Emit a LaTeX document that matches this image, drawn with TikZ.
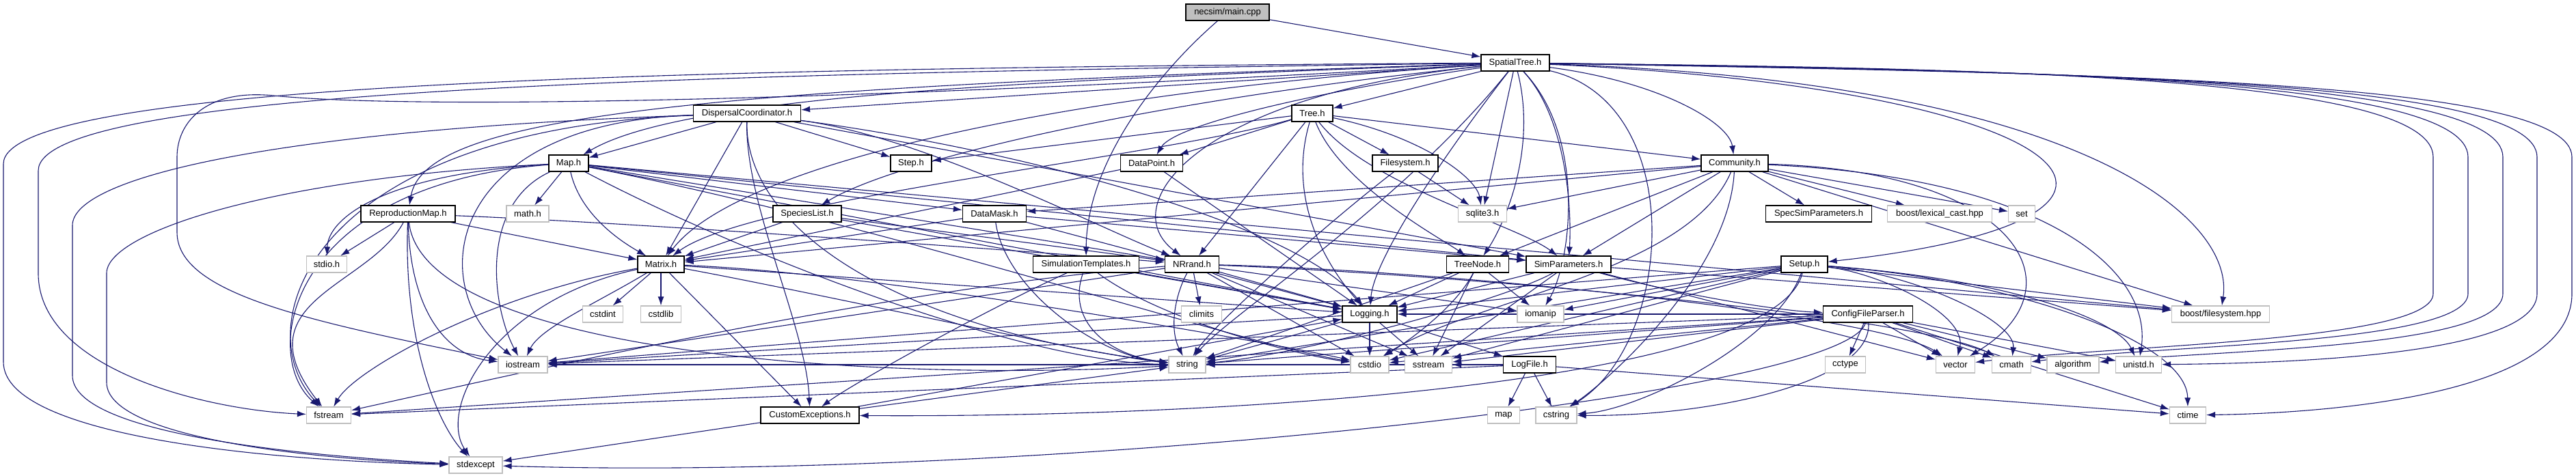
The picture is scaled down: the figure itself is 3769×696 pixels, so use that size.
\documentclass[tikz,border=0pt]{standalone}
\usepackage{fontspec}
\setmainfont{Liberation Sans}
\usetikzlibrary{arrows.meta}
\definecolor{edgeblue}{HTML}{191970}
\definecolor{grayb}{HTML}{BFBFBF}
\pgfdeclarelayer{bg}
\pgfsetlayers{bg,main}
\tikzset{
  nb/.style={draw=black, line width=1.2pt, fill=white, minimum height=24pt, inner xsep=0pt, inner ysep=0pt, font=\fontsize{13}{15}\selectfont},
  ng/.style={nb, draw=grayb},
  e/.style={draw=edgeblue, line width=1.1pt, -{Latex[length=13pt,width=9pt]}}
}
\begin{document}
\begin{tikzpicture}[x=1pt,y=-1pt]
\useasboundingbox (0,0) rectangle (3769,696);
% project headers
\node[nb,fill=grayb,minimum width=122pt] (main) at (1796,18) {necsim/main.cpp};
\node[nb,minimum width=100pt] (ST) at (2217,92) {SpatialTree.h};
\node[nb,minimum width=157pt] (DC) at (1093,166) {DispersalCoordinator.h};
\node[nb,minimum width=60pt] (Tree) at (1920,166) {Tree.h};
\node[nb,minimum width=58pt] (Map) at (832,239) {Map.h};
\node[nb,minimum width=60pt] (Step) at (1333,239) {Step.h};
\node[nb,minimum width=91pt] (DP) at (1685,239) {DataPoint.h};
\node[nb,minimum width=96pt] (FS) at (2056,239) {Filesystem.h};
\node[nb,minimum width=98pt] (Comm) at (2538,239) {Community.h};
\node[nb,minimum width=138pt] (RM) at (597,313) {ReproductionMap.h};
\node[nb,minimum width=100pt] (SL) at (1181,313) {SpeciesList.h};
\node[nb,minimum width=93pt] (DM) at (1455,313) {DataMask.h};
\node[nb,minimum width=155pt] (SSP) at (2661,313) {SpecSimParameters.h};
\node[nb,minimum width=68pt] (Matrix) at (967,387) {Matrix.h};
\node[nb,minimum width=155pt] (SimT) at (1589,387) {SimulationTemplates.h};
\node[nb,minimum width=79pt] (NR) at (1744,387) {NRrand.h};
\node[nb,minimum width=91pt] (TN) at (2162,387) {TreeNode.h};
\node[nb,minimum width=124pt] (SP) at (2295,387) {SimParameters.h};
\node[nb,minimum width=68pt] (Setup) at (2640,387) {Setup.h};
\node[nb,minimum width=80pt] (Log) at (2004,460) {Logging.h};
\node[nb,minimum width=131pt] (CFP) at (2733,460) {ConfigFileParser.h};
\node[nb,minimum width=77pt] (LogFile) at (2238,534) {LogFile.h};
\node[nb,minimum width=144pt] (CE) at (1185,608) {CustomExceptions.h};
% system headers
\node[ng,minimum width=62pt] (mathh) at (772,313) {math.h};
\node[ng,minimum width=71pt] (sqlite) at (2169,313) {sqlite3.h};
\node[ng,minimum width=153pt] (lexcast) at (2838,313) {boost/lexical\_cast.hpp};
\node[ng,minimum width=39pt] (set) at (2958,313) {set};
\node[ng,minimum width=59pt] (stdio) at (478,387) {stdio.h};
\node[ng,minimum width=59pt] (cstdint) at (882,460) {cstdint};
\node[ng,minimum width=59pt] (cstdlib) at (967,460) {cstdlib};
\node[ng,minimum width=59pt] (climits) at (1758,460) {climits};
\node[ng,minimum width=68pt] (iomanip) at (2254,460) {iomanip};
\node[ng,minimum width=143pt] (bfs) at (3249,460) {boost/filesystem.hpp};
\node[ng,minimum width=72pt] (iostream) at (765,534) {iostream};
\node[ng,minimum width=54pt] (string) at (1737,534) {string};
\node[ng,minimum width=56pt] (cstdio) at (2004,534) {cstdio};
\node[ng,minimum width=69pt] (sstream) at (2090,534) {sstream};
\node[ng,minimum width=59pt] (cctype) at (2700,534) {cctype};
\node[ng,minimum width=57pt] (vector) at (2861,534) {vector};
\node[ng,minimum width=57pt] (cmath) at (2943,534) {cmath};
\node[ng,minimum width=76pt] (algorithm) at (3033,534) {algorithm};
\node[ng,minimum width=67pt] (unistd) at (3129,534) {unistd.h};
\node[ng,minimum width=65pt] (fstream) at (481,608) {fstream};
\node[ng,minimum width=47pt] (map) at (2200,608) {map};
\node[ng,minimum width=60pt] (cstring) at (2277,608) {cstring};
\node[ng,minimum width=53pt] (ctime) at (3201,608) {ctime};
\node[ng,minimum width=78pt] (stdexcept) at (696,681) {stdexcept};

\begin{pgfonlayer}{bg}
\fill[white] (0,0) rectangle (3769,696);
% main
\draw[e] (main) -- (ST);
\draw[e] (main) .. controls (1690,110) and (1590,240) .. (SimT);
% SpatialTree
\draw[e] (ST) -- (Tree);
\draw[e] (ST) -- (DC);
\draw[e] (ST) .. controls (1500,118) and (1000,140) .. (Map);
\draw[e] (ST) .. controls (1000,130) and (620,170) .. (RM);
\draw[e] (ST) .. controls (1650,150) and (1300,240) .. (SL);
\draw[e] (ST) .. controls (1550,135) and (1080,240) .. (Matrix);
\draw[e] (ST) .. controls (1950,130) and (1720,180) .. (DP);
\draw[e] (ST) .. controls (1750,140) and (1630,300) .. (NR);
\draw[e] (ST) -- (sqlite);
\draw[e] (ST) .. controls (2250,220) and (2200,330) .. (TN);
\draw[e] (ST) .. controls (2290,170) and (2300,300) .. (SP);
\draw[e] (ST) .. controls (2430,120) and (2530,180) .. (Comm);
\draw[e] (ST) .. controls (3050,130) and (3250,320) .. (Setup);
\draw[e] (ST) .. controls (2110,230) and (2010,380) .. (Log);
\draw[e] (ST) .. controls (3050,120) and (3270,320) .. (bfs);
\draw[e] (ST) .. controls (2470,150) and (2450,500) .. (cstring);
\draw[e] (ST) .. controls (2050,300) and (1800,460) .. (string);
\draw[e] (ST) .. controls (2320,200) and (2300,380) .. (iomanip);
\draw[e] (ST) .. controls (2900,100) and (3560,110) .. (3560,230) -- (3560,430) .. controls (3560,500) and (3100,505) .. (vector);
\draw[e] (ST) .. controls (2950,102) and (3611,112) .. (3611,230) -- (3611,430) .. controls (3611,505) and (3150,505) .. (cmath);
\draw[e] (ST) .. controls (3000,104) and (3662,114) .. (3662,230) -- (3662,430) .. controls (3662,510) and (3250,512) .. (algorithm);
\draw[e] (ST) .. controls (3050,106) and (3712,116) .. (3712,230) -- (3712,430) .. controls (3712,520) and (3350,532) .. (unistd);
\draw[e] (ST) .. controls (3100,108) and (3763,118) .. (3763,230) -- (3763,430) .. controls (3763,580) and (3400,605) .. (ctime);
\draw[e] (ST) .. controls (1000,100) and (5,120) .. (5,240) -- (5,530) .. controls (5,640) and (400,675) .. (stdexcept);
\draw[e] (ST) .. controls (1000,108) and (56,130) .. (56,250) -- (56,400) .. controls (56,540) and (300,600) .. (fstream);
\draw[e] (ST) .. controls (1200,150) and (600,160) .. (400,140) .. controls (300,130) and (259,180) .. (259,230) -- (259,340) .. controls (259,430) and (450,470) .. (iostream);
% DispersalCoordinator
\draw[e] (DC) -- (Map);
\draw[e] (DC) -- (Matrix);
\draw[e] (DC) -- (Step);
\draw[e] (DC) .. controls (1350,200) and (1600,330) .. (NR);
\draw[e] (DC) -- (SP);
\draw[e] (DC) .. controls (1090,330) and (1300,480) .. (string);
\draw[e] (DC) .. controls (1090,300) and (1180,480) .. (CE);
\draw[e] (DC) .. controls (650,180) and (620,420) .. (iostream);
\draw[e] (DC) .. controls (450,190) and (360,480) .. (fstream);
\draw[e] (DC) .. controls (400,190) and (106,260) .. (106,330) -- (106,550) .. controls (106,630) and (400,665) .. (stdexcept);
\draw[e] (DC) .. controls (1500,220) and (1900,330) .. (Log);
% Map
\draw[e] (Map) -- (mathh);
\draw[e] (Map) .. controls (850,320) and (920,360) .. (Matrix);
\draw[e] (Map) .. controls (560,255) and (480,320) .. (stdio);
\draw[e] (Map) -- (DM);
\draw[e] (Map) -- (NR);
\draw[e] (Map) -- (SP);
\draw[e] (Map) .. controls (1100,380) and (1500,530) .. (string);
\draw[e] (Map) .. controls (700,300) and (720,450) .. (iostream);
\draw[e] (Map) .. controls (420,270) and (380,520) .. (fstream);
\draw[e] (Map) .. controls (400,260) and (156,340) .. (156,400) -- (156,560) .. controls (156,640) and (450,672) .. (stdexcept);
\draw[e] (Map) -- (Log);
\draw[e] (Map) -- (bfs);
\draw[e] (Map) .. controls (1300,330) and (1800,500) .. (cstdio);
% ReproductionMap
\draw[e] (RM) -- (Matrix);
\draw[e] (RM) -- (stdio);
\draw[e] (RM) .. controls (900,325) and (1400,360) .. (NR);
\draw[e] (RM) .. controls (540,420) and (350,440) .. (fstream);
\draw[e] (RM) .. controls (600,450) and (650,520) .. (iostream);
\draw[e] (RM) .. controls (620,520) and (1300,560) .. (string);
\draw[e] (RM) .. controls (590,500) and (640,620) .. (stdexcept);
% Matrix
\draw[e] (Matrix) -- (cstdint);
\draw[e] (Matrix) -- (cstdlib);
\draw[e] (Matrix) .. controls (880,440) and (790,480) .. (iostream);
\draw[e] (Matrix) .. controls (720,430) and (520,540) .. (fstream);
\draw[e] (Matrix) .. controls (720,440) and (640,600) .. (stdexcept);
\draw[e] (Matrix) .. controls (1200,430) and (1600,520) .. (string);
\draw[e] (Matrix) .. controls (1300,400) and (1900,510) .. (cstdio);
\draw[e] (Matrix) -- (CE);
\draw[e] (Matrix) -- (Log);
% SpeciesList, DataMask, DataPoint
\draw[e] (SL) -- (Matrix);
\draw[e] (SL) -- (NR);
\draw[e] (SL) -- (Log);
\draw[e] (DM) -- (Matrix);
\draw[e] (DM) .. controls (1470,420) and (1600,520) .. (string);
\draw[e] (DM) -- (SP);
\draw[e] (DM) -- (Log);
\draw[e] (DP) -- (Log);
\draw[e] (DP) -- (Matrix);
% Tree
\draw[e] (Tree) -- (Step);
\draw[e] (Tree) -- (DP);
\draw[e] (Tree) -- (FS);
\draw[e] (Tree) .. controls (2080,200) and (2160,260) .. (sqlite);
\draw[e] (Tree) -- (NR);
\draw[e] (Tree) .. controls (1960,270) and (2110,350) .. (TN);
\draw[e] (Tree) .. controls (2000,270) and (2220,330) .. (SP);
\draw[e] (Tree) -- (Comm);
\draw[e] (Tree) .. controls (1700,230) and (1100,290) .. (Matrix);
\draw[e] (Tree) .. controls (1880,300) and (1950,400) .. (Log);
% Filesystem
\draw[e] (FS) -- (sqlite);
\draw[e] (FS) .. controls (1950,320) and (1780,470) .. (string);
% Community
\draw[e] (Comm) -- (DM);
\draw[e] (Comm) -- (sqlite);
\draw[e] (Comm) -- (SSP);
\draw[e] (Comm) -- (lexcast);
\draw[e] (Comm) -- (set);
\draw[e] (Comm) -- (TN);
\draw[e] (Comm) .. controls (2530,400) and (2350,560) .. (cstring);
\draw[e] (Comm) .. controls (2470,400) and (2150,440) .. (cstdio);
\draw[e] (Comm) -- (Matrix);
\draw[e] (Comm) -- (bfs);
\draw[e] (Comm) .. controls (2950,250) and (3050,420) .. (vector);
\draw[e] (Comm) -- (SP);
\draw[e] (Comm) .. controls (3000,260) and (3150,400) .. (unistd);
% SimulationTemplates
\draw[e] (SimT) .. controls (1450,450) and (1250,560) .. (CE);
\draw[e] (SimT) .. controls (1560,470) and (1620,520) .. (string);
\draw[e] (SimT) .. controls (1700,470) and (1900,520) .. (cstdio);
\draw[e] (SimT) -- (Log);
% NRrand
\draw[e] (NR) -- (climits);
\draw[e] (NR) .. controls (1720,430) and (1710,480) .. (string);
\draw[e] (NR) -- (Log);
\draw[e] (NR) -- (cstdio);
\draw[e] (NR) -- (iostream);
\draw[e] (NR) .. controls (1300,420) and (700,560) .. (fstream);
\draw[e] (NR) .. controls (2100,400) and (2800,460) .. (cmath);
\draw[e] (NR) .. controls (2100,395) and (2750,460) .. (vector);
\draw[e] (NR) -- (sstream);
\draw[e] (NR) -- (iomanip);
% TreeNode
\draw[e] (TN) -- (iomanip);
\draw[e] (TN) -- (Log);
\draw[e] (TN) .. controls (2130,450) and (2060,500) .. (cstdio);
\draw[e] (TN) -- (string);
\draw[e] (TN) -- (sstream);
% SimParameters
\draw[e] (SP) .. controls (2450,430) and (2600,455) .. (CFP);
\draw[e] (SP) -- (Log);
\draw[e] (SP) .. controls (2200,440) and (1900,520) .. (string);
\draw[e] (SP) -- (bfs);
\draw[e] (SP) -- (vector);
\draw[e] (SP) -- (sstream);
% Setup
\draw[e] (Setup) -- (iomanip);
\draw[e] (Setup) -- (string);
\draw[e] (Setup) -- (cstdio);
\draw[e] (Setup) -- (sstream);
\draw[e] (Setup) -- (iostream);
\draw[e] (Setup) .. controls (2750,400) and (2880,460) .. (vector);
\draw[e] (Setup) .. controls (2800,400) and (2950,470) .. (cmath);
\draw[e] (Setup) .. controls (2950,410) and (3100,470) .. (unistd);
\draw[e] (Setup) -- (bfs);
\draw[e] (Setup) .. controls (2950,410) and (3200,500) .. (ctime);
\draw[e] (Setup) .. controls (2600,500) and (2400,600) .. (cstring);
\draw[e] (Setup) -- (Log);
\draw[e] (Setup) .. controls (2600,560) and (1800,612) .. (CE);
% ConfigFileParser
\draw[e] (CFP) -- (cctype);
\draw[e] (CFP) -- (vector);
\draw[e] (CFP) -- (cmath);
\draw[e] (CFP) -- (algorithm);
\draw[e] (CFP) -- (unistd);
\draw[e] (CFP) -- (string);
\draw[e] (CFP) -- (cstdio);
\draw[e] (CFP) -- (sstream);
\draw[e] (CFP) -- (iostream);
\draw[e] (CFP) .. controls (2740,560) and (2500,610) .. (cstring);
\draw[e] (CFP) .. controls (2700,580) and (1500,705) .. (stdexcept);
\draw[e] (CFP) -- (Log);
\draw[e] (CFP) -- (fstream);
\draw[e] (CFP) -- (ctime);
% Logging
\draw[e] (Log) -- (cstdio);
\draw[e] (Log) -- (LogFile);
\draw[e] (Log) -- (string);
\draw[e] (Log) -- (iostream);
\draw[e] (Log) -- (sstream);
% LogFile
\draw[e] (LogFile) -- (map);
\draw[e] (LogFile) -- (cstring);
\draw[e] (LogFile) -- (ctime);
\draw[e] (LogFile) -- (string);
\draw[e] (LogFile) -- (fstream);
\draw[e] (LogFile) -- (iostream);
\draw[e] (LogFile) -- (sstream);
% CustomExceptions
\draw[e] (CE) -- (stdexcept);
\draw[e] (CE) -- (Log);
\draw[e] (CE) -- (string);
\end{pgfonlayer}
\end{tikzpicture}
\end{document}
